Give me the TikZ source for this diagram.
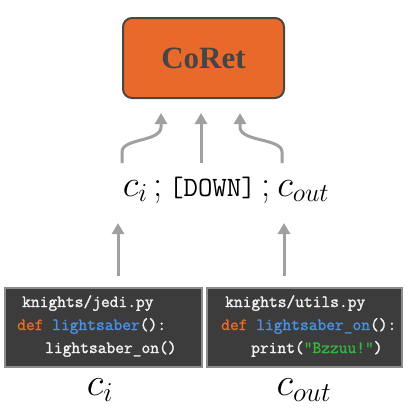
\documentclass[tikz,border=0pt]{standalone}
\usepackage{fix-cm}
\usepackage{fontspec}
\newfontfamily\boxfont{Liberation Serif}
\newfontfamily\codefont[FakeBold=1.6]{Latin Modern Mono}
\usetikzlibrary{arrows.meta}
\definecolor{coretorange}{HTML}{E8692A}
\definecolor{coretedge}{HTML}{4A4540}
\definecolor{coretext}{HTML}{454545}
\definecolor{arrgray}{HTML}{A0A0A0}
\definecolor{codebg}{HTML}{3C3C3C}
\definecolor{codeedge}{HTML}{8C8C8C}
\definecolor{kwcol}{HTML}{E8692A}
\definecolor{fncol}{HTML}{4A90E2}
\definecolor{strcol}{HTML}{33B53B}
\definecolor{codefg}{HTML}{F2F2F2}
\begin{document}
\begin{tikzpicture}[x=1pt,y=-1pt,
  coretbox/.style={draw=coretedge,line width=2pt,fill=coretorange,rounded corners=9pt,
    minimum width=161pt,minimum height=80pt,inner sep=0pt,
    font=\boxfont\bfseries\fontsize{31}{34}\selectfont,text=coretext},
  arr/.style={draw=arrgray,line width=3pt,-{Triangle[width=12pt,length=11pt]}},
  codebox/.style={draw=codeedge,line width=2pt,fill=codebg,inner sep=0pt},
  codeline/.style={anchor=base west,inner sep=0pt,text=codefg,
    font=\codefont\fontsize{17}{20}\selectfont},
  mathlab/.style={inner sep=0pt,font=\fontsize{39}{42}\selectfont}
]
\useasboundingbox (0,0) rectangle (409,408);

% CoRet box
\node[coretbox] (coret) at (203.5,58) {CoRet};

% middle text
\node[inner sep=0pt,anchor=base] (mid) at (226,196)
  {\fontsize{37}{40}\selectfont$c_i$\,;\,{\ttfamily\fontsize{28}{30}\selectfont[DOWN]}\,;$\,c_{out}$};

% upper arrows
\coordinate (u1s) at (122,163);
\coordinate (u2s) at (201,163);
\coordinate (u3s) at (282,163);
\coordinate (u1e) at (161,113);
\coordinate (u2e) at (201,113);
\coordinate (u3e) at (240,113);
\draw[arr] (u1s) -- (122,152) .. controls (122,138) and (161,142) .. (161,127) -- (u1e);
\draw[arr] (u2s) -- (u2e);
\draw[arr] (u3s) -- (282,152) .. controls (282,138) and (240,142) .. (240,127) -- (u3e);

% code boxes
\node[codebox,minimum width=197pt,minimum height=79pt] (lbox) at (103.5,327.5) {};
\node[codebox,minimum width=195pt,minimum height=79pt] (rbox) at (304.5,327.5) {};

\node[codeline] (l1) at (22,307) {knights/jedi.py};
\node[codeline] (l2) at (17,330) {\textcolor{kwcol}{def} \textcolor{fncol}{lightsaber}():};
\node[codeline] (l3) at (45,353) {lightsaber\_on()};

\node[codeline] (r1) at (225,307) {knights/utils.py};
\node[codeline] (r2) at (221,330) {\textcolor{kwcol}{def} \textcolor{fncol}{lightsaber\_on}():};
\node[codeline] (r3) at (251,353) {print(\textcolor{strcol}{"Bzzuu!"})};

% lower arrows
\coordinate (d1e) at (118,223);
\coordinate (d2e) at (284,223);
\draw[arr] (lbox.north -| d1e) ++(0,-11) coordinate (d1s) -- (d1e);
\draw[arr] (rbox.north -| d2e) ++(0,-11) coordinate (d2s) -- (d2e);

% bottom labels
\node[mathlab] (lci) at (100,390) {$c_i$};
\node[mathlab] (lco) at (304,390) {$c_{out}$};
\end{tikzpicture}
\end{document}
